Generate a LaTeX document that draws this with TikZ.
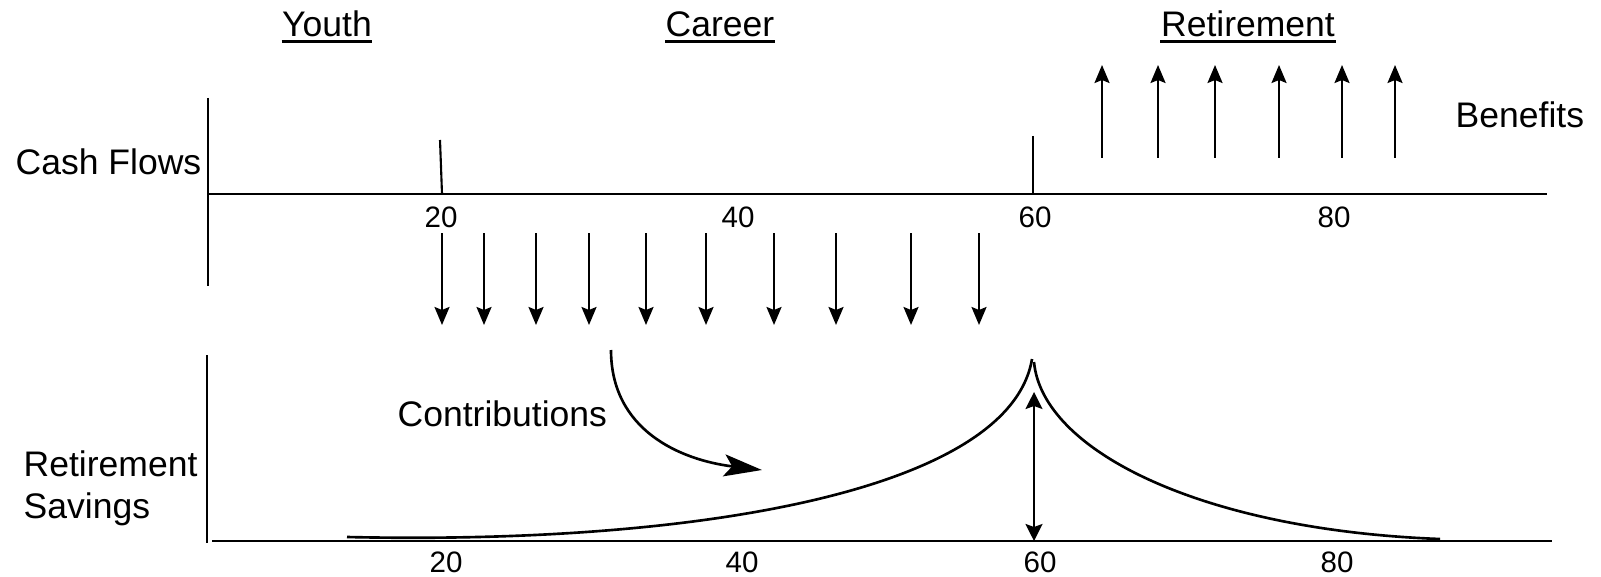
\documentclass[tikz,border=0pt]{standalone}
\usepackage{fontspec}
\setmainfont{Liberation Sans}
\usetikzlibrary{arrows.meta, positioning}

\begin{document}
\begin{tikzpicture}[x=0.01cm, y=-0.01cm]
    \tikzstyle{lbl}   = [inner sep=0pt, font=\fontsize{10.1}{11.95}\selectfont]
    \tikzstyle{num}   = [inner sep=0pt, anchor=base, font=\fontsize{8.4}{10}\selectfont]
    \tikzstyle{axis}  = [line width=0.8pt]
    \tikzstyle{tick}  = [line width=0.6pt]
    \tikzstyle{flow}  = [-{Stealth[length=0.18cm, width=0.15cm, inset=0.03cm]}, line width=0.6pt]
    \tikzstyle{curve} = [line width=0.75pt]

    \useasboundingbox (0,0) rectangle (1601,576);

    \node (youth)  [lbl, anchor=base] at (327,37)  {Youth};
    \node (career) [lbl, anchor=base] at (720,37)  {Career};
    \node (retire) [lbl, anchor=base] at (1248,37) {Retirement};
    \foreach \n in {youth, career, retire}
        \draw[line width=0.7pt] ([yshift=-1.3pt]\n.base west) -- ([yshift=-1.3pt]\n.base east);

    \node (cash)     [lbl, anchor=base west] at (15,175)   {Cash Flows};
    \node (benefits) [lbl, anchor=base west] at (1455,127) {Benefits};
    \node (contrib)  [lbl, anchor=base west] at (397,426)  {Contributions};
    \node (savings)  [lbl, anchor=west, align=left] at (23,488) {Retirement\\Savings};

    % cash flow time line
    \draw[axis] (208,98) -- (208,286);
    \draw[axis] (208,194) -- (1547,194);
    \draw[tick] (440,140) -- (442,194);
    \draw[tick] (1033,136) -- (1033,194);
    \foreach \x/\t in {441/20, 738/40, 1035/60, 1334/80}
        \node (top\t) [num] at (\x,227) {\t};

    \foreach \x in {442, 484, 536, 589, 646, 706, 774, 836, 911, 979}
        \draw[flow] (\x,233) -- (\x,325);
    \foreach \x in {1102, 1158, 1215, 1279, 1342, 1395}
        \draw[flow] (\x,158) -- (\x,65);

    % savings balance
    \draw[axis] (207,355) -- (207,543);
    \draw[axis] (212,541) -- (1552,541);
    \foreach \x/\t in {446/20, 742/40, 1040/60, 1337/80}
        \node (bot\t) [num] at (\x,572) {\t};

    \draw[curve] (347,537) .. controls (700,545) and (1010,490) .. (1032,359);
    \draw[curve] (1034,362) .. controls (1042,450) and (1200,530) .. (1440,539);
    \draw[{Stealth[length=0.17cm, width=0.17cm, inset=0.03cm]}-{Stealth[length=0.17cm, width=0.17cm, inset=0.03cm]}, line width=0.6pt]
        (1034,392) -- (1034,541);

    \draw[curve, -{Stealth[length=0.38cm, width=0.22cm, inset=0.08cm]}]
        (611,350) .. controls (611,430) and (680,460) .. (762,470);
\end{tikzpicture}
\end{document}
